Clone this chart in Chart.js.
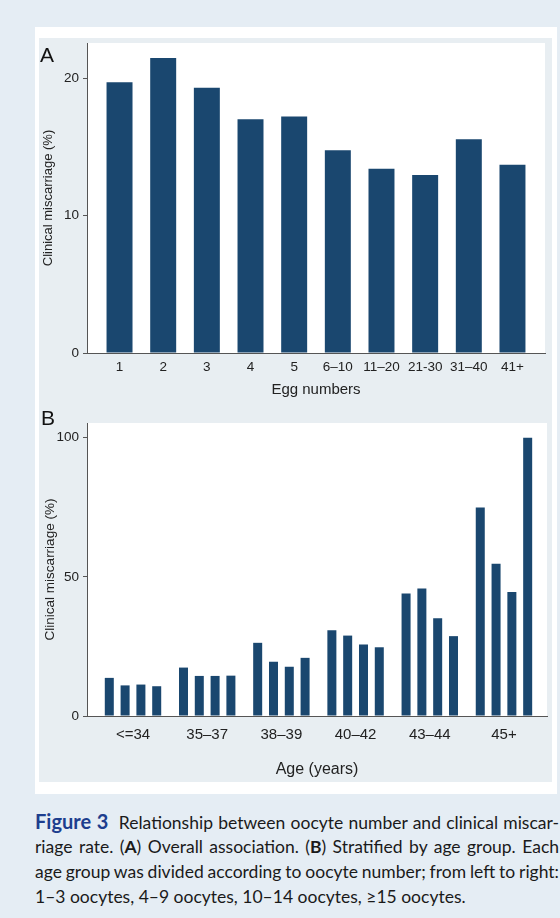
<!DOCTYPE html>
<html>
<head>
<meta charset="utf-8">
<script src="https://cdn.jsdelivr.net/npm/chart.js@4.4.1/dist/chart.umd.min.js"></script>
<style>
  body { margin: 0; width: 560px; height: 918px; overflow: hidden; position: relative; background: #e5edf4; }
  .sheet { position: absolute; left: 35px; top: 27px; width: 522px; height: 767px; background: #fff; }
  .region { position: absolute; left: 39px; top: 38px; width: 513px; height: 744px; background: #e8eef2; }
  .box { position: absolute; left: 39px; width: 513px; }
  #boxA { top: 38px; height: 362px; }
  #boxB { top: 400px; height: 382px; }
  .letter { position: absolute; font-family: 'Liberation Sans', Arial, sans-serif; font-size: 21px; line-height: 21px; color: #111; }
  .caption { position: absolute; left: 35px; top: 809px; width: 524px; font-family: Lato, 'Open Sans', sans-serif; font-size: 17.5px; line-height: 25px; color: #1a1a1a; }
  .ln { text-align: justify; text-align-last: justify; height: 25px; word-spacing: -4px; }
  .ln.last { text-align-last: left; word-spacing: 0; }
  .fig { color: #1d3e8e; font-weight: bold; font-size: 20px; }
</style>
</head>
<body>
<div class="sheet"></div>
<div class="region"></div>
<div class="box" id="boxA"><canvas id="chartA"></canvas></div>
<div class="box" id="boxB"><canvas id="chartB"></canvas></div>
<div class="letter" style="left:40px; top:44px;">A</div>
<div class="letter" style="left:41px; top:407px;">B</div>
<div class="caption">
  <div class="ln"><span class="fig">Figure 3</span>&nbsp; Relationship between oocyte number and clinical miscar-</div>
  <div class="ln">riage rate. (<b>A</b>) Overall association. (<b>B</b>) Stratified by age group. Each</div>
  <div class="ln">age group was divided according to oocyte number; from left to right:</div>
  <div class="ln last">1–3 oocytes, 4–9 oocytes, 10–14 oocytes, ≥15 oocytes.</div>
</div>

<script>
// Panel A: overall association
const eggLabels = ['1', '2', '3', '4', '5', '6–10', '11–20', '21-30', '31–40', '41+'];
const eggRates = [19.7, 21.45, 19.3, 17.0, 17.2, 14.75, 13.4, 12.95, 15.55, 13.7];
const eggTicks = [0, 10, 20];

// Panel B: by age group, one series per oocyte band
const ageLabels = ['<=34', '35–37', '38–39', '40–42', '43–44', '45+'];
const oocytes1to3 = [13.7, 17.4, 26.3, 30.8, 44.0, 74.9];
const oocytes4to9 = [11.0, 14.4, 19.5, 28.9, 45.8, 54.7];
const oocytes10to14 = [11.3, 14.4, 17.7, 25.7, 35.1, 44.6];
const oocytes15plus = [10.7, 14.5, 20.9, 24.7, 28.7, 100];
const ageTicks = [0, 50, 100];

const navy = '#1a476f';
const axisGrey = '#555';
const textCol = '#222';
const sans = "'Liberation Sans', Arial, sans-serif";

// white plot area like Stata's plotregion
const plotBg = {
    id: 'plotBg',
    beforeDraw(chart) {
        const { ctx, chartArea: a } = chart;
        ctx.save();
        ctx.fillStyle = '#fff';
        ctx.fillRect(a.left, a.top, a.right - a.left, a.bottom - a.top);
        ctx.restore();
    }
};

function toPoints(values) {
    return values.map((v, i) => ({ x: i, y: v }));
}

function buildOptions(cfg) {
    return {
        responsive: true,
        maintainAspectRatio: false,
        animation: false,
        layout: { padding: { top: cfg.padTop, right: cfg.padRight, left: 0, bottom: 0 } },
        plugins: { legend: { display: false }, tooltip: { enabled: false } },
        scales: {
            x: {
                type: 'linear',
                min: cfg.xMin,
                max: cfg.xMax,
                offset: false,
                afterFit: s => {
                    s.height = cfg.xHeight;
                    s.paddingLeft = 0;
                    s.paddingRight = 0;
                },
                afterBuildTicks: s => { s.ticks = cfg.labels.map((_, i) => ({ value: i })); },
                ticks: {
                    callback: v => cfg.labels[v],
                    autoSkip: false,
                    maxRotation: 0,
                    padding: cfg.xTickPad,
                    color: textCol,
                    font: { family: sans, size: cfg.xTickSize }
                },
                grid: { display: false, drawTicks: false },
                border: { display: true, color: axisGrey, width: 1 },
                title: {
                    display: true,
                    text: cfg.xTitle,
                    color: textCol,
                    font: { family: sans, size: cfg.xTitleSize },
                    padding: { top: 0, bottom: cfg.xTitlePad }
                }
            },
            y: {
                min: 0,
                max: cfg.yMax,
                afterFit: s => {
                    s.width = 48;
                    s.paddingTop = 0;
                    s.paddingBottom = 0;
                },
                afterBuildTicks: s => { s.ticks = cfg.yTicks.map(v => ({ value: v })); },
                ticks: { padding: 4, color: textCol, font: { family: sans, size: cfg.yTickSize } },
                grid: { drawOnChartArea: false, tickLength: 4, color: axisGrey },
                border: { display: true, color: axisGrey, width: 1 },
                title: {
                    display: true,
                    text: 'Clinical miscarriage (%)',
                    color: textCol,
                    font: { family: sans, size: cfg.yTitleSize },
                    padding: { top: cfg.yTitlePad, bottom: 0 }
                }
            }
        }
    };
}

// A. Overall association
new Chart(document.getElementById('chartA'), {
    type: 'bar',
    data: {
        datasets: [{
            data: toPoints(eggRates),
            backgroundColor: navy,
            borderWidth: 0,
            categoryPercentage: 1,
            barPercentage: 0.595
        }]
    },
    options: buildOptions({
        labels: eggLabels, xMin: -0.745, xMax: 9.745, yMax: 22.55, yTicks: eggTicks,
        padTop: 5, padRight: 7, xHeight: 47,
        xTickPad: 6, xTickSize: 13.5, xTitle: 'Egg numbers', xTitleSize: 15, xTitlePad: 1,
        yTickSize: 13.5, yTitleSize: 13, yTitlePad: 2
    }),
    plugins: [plotBg]
});

// B. Stratified by age group
const bandSeries = [oocytes1to3, oocytes4to9, oocytes10to14, oocytes15plus];
new Chart(document.getElementById('chartB'), {
    type: 'bar',
    data: {
        datasets: bandSeries.map(values => ({
            data: toPoints(values),
            backgroundColor: navy,
            borderWidth: 0,
            categoryPercentage: 0.852,
            barPercentage: 0.57
        }))
    },
    options: buildOptions({
        labels: ageLabels, xMin: -0.62, xMax: 5.58, yMax: 105.3, yTicks: ageTicks,
        padTop: 23, padRight: 5, xHeight: 66,
        xTickPad: 10, xTickSize: 15, xTitle: 'Age (years)', xTitleSize: 16, xTitlePad: 3,
        yTickSize: 13.5, yTitleSize: 13.5, yTitlePad: 3
    }),
    plugins: [plotBg]
});
</script>
</body>
</html>
